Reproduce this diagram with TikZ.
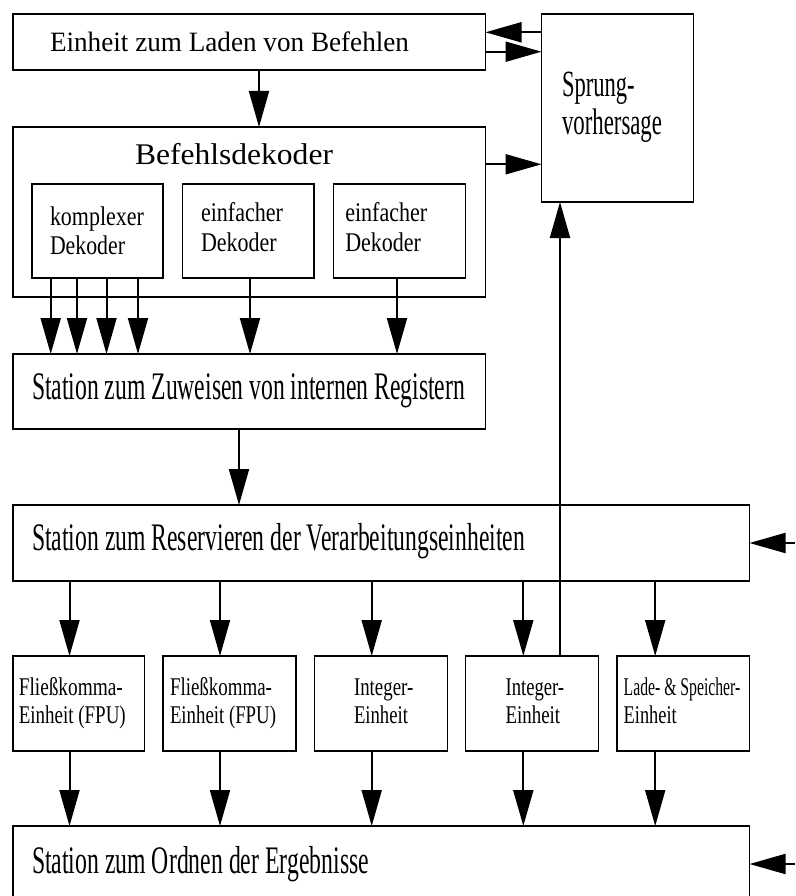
\documentclass[tikz,border=0pt]{standalone}
\usepackage{fontspec}
\setmainfont{Liberation Serif}
\usepackage{graphicx}
\usetikzlibrary{arrows.meta}
% set a line of text at its natural height, squeezed to a given width (in pt)
\newcommand{\fitw}[2]{\resizebox{#1pt}{\height}{#2}}
\begin{document}
\begin{tikzpicture}[x=1pt,y=-1pt,
  box/.style={draw, line width=1.4pt, inner sep=0pt, outer sep=0pt, anchor=north west},
  arr/.style={line width=2pt, -{Triangle[length=36pt,width=20pt]}},
  txt/.style={inner sep=0pt, outer sep=0pt, anchor=base west},
  fA/.style={font=\fontsize{28}{30}\selectfont},
  fB/.style={font=\fontsize{30}{32}\selectfont},
  fC/.style={font=\fontsize{27}{29}\selectfont},
  fD/.style={font=\fontsize{39}{41}\selectfont},
  fE/.style={font=\fontsize{37}{39}\selectfont},
  fF/.style={font=\fontsize{25.5}{27}\selectfont}]
\useasboundingbox (0,0) rectangle (795,896);
\clip (0,0) rectangle (795,896);

% ---- boxes ----
\node[box, minimum width=472.5pt, minimum height=56pt]  (laden)  at (13,14) {};
\node[box, minimum width=152pt,   minimum height=188pt] (sprung) at (541.5,14) {};
\node[box, minimum width=472.5pt, minimum height=170pt] (dek)    at (13,127) {};
\node[box, minimum width=131pt,   minimum height=94pt]  (kd)     at (32,184) {};
\node[box, minimum width=131.5pt, minimum height=94pt]  (edA)    at (182.5,184) {};
\node[box, minimum width=131.8pt, minimum height=94pt]  (edB)    at (333.7,184) {};
\node[box, minimum width=472.5pt, minimum height=75pt]  (zuw)    at (13,354) {};
\node[box, minimum width=736.5pt, minimum height=76pt]  (res)    at (13,505) {};
\node[box, minimum width=131.5pt, minimum height=95pt]  (fpuA)   at (13,656) {};
\node[box, minimum width=133pt,   minimum height=95pt]  (fpuB)   at (163,656) {};
\node[box, minimum width=133pt,   minimum height=95pt]  (intA)   at (314.4,656) {};
\node[box, minimum width=133pt,   minimum height=95pt]  (intB)   at (465.5,656) {};
\node[box, minimum width=132.5pt, minimum height=95pt]  (ls)     at (617,656) {};
\node[box, minimum width=736.5pt, minimum height=90pt]  (ord)    at (13,826) {};

% ---- labels ----
\node[txt, fA] (tladen) at (50,51.7) {\fitw{359}{Einheit zum Laden von Befehlen}};
\node[txt, fB] (tdek)   at (135,164.3) {\fitw{198}{Befehlsdekoder}};
\node[txt, fC] (tkdA)   at (50,225) {\fitw{94}{komplexer}};
\node[txt, fC] (tkdB)   at (50,254) {\fitw{75}{Dekoder}};
\node[txt, fC] (tedAa)  at (201,221.7) {\fitw{82}{einfacher}};
\node[txt, fC] (tedAb)  at (201,251.7) {\fitw{75.7}{Dekoder}};
\node[txt, fC] (tedBa)  at (345.3,221.7) {\fitw{82}{einfacher}};
\node[txt, fC] (tedBb)  at (345.3,251.7) {\fitw{75.7}{Dekoder}};
\node[txt, fE] (tspA)   at (562,97) {\fitw{72.7}{Sprung-}};
\node[txt, fE] (tspB)   at (562,135) {\fitw{100}{vorhersage}};
\node[txt, fD] (tzuw)   at (32,399) {\fitw{433}{Station zum Zuweisen von internen Registern}};
\node[txt, fD] (tres)   at (32,550) {\fitw{493}{Station zum Reservieren der Verarbeitungseinheiten}};
\node[txt, fD] (tord)   at (32,873.5) {\fitw{337}{Station zum Ordnen der Ergebnisse}};
\node[txt, fF] (tfpuAa) at (18.8,695) {\fitw{104}{Fließkomma-}};
\node[txt, fF] (tfpuAb) at (18.8,723.5) {\fitw{107}{Einheit (FPU)}};
\node[txt, fF] (tfpuBa) at (170,695) {\fitw{102}{Fließkomma-}};
\node[txt, fF] (tfpuBb) at (170,723.5) {\fitw{106}{Einheit (FPU)}};
\node[txt, fF] (tintAa) at (354,695) {\fitw{59.3}{Integer-}};
\node[txt, fF] (tintAb) at (354,723.5) {\fitw{54}{Einheit}};
\node[txt, fF] (tintBa) at (505.6,695) {\fitw{58.5}{Integer-}};
\node[txt, fF] (tintBb) at (505.6,723.5) {\fitw{54.5}{Einheit}};
\node[txt, fF] (tlsa)   at (623.7,695) {\fitw{116.6}{Lade- \& Speicher-}};
\node[txt, fF] (tlsb)   at (623.7,723.5) {\fitw{53}{Einheit}};

% ---- connector positions ----
\coordinate (xL) at (259,0);
\coordinate (kA) at (50.7,0);
\coordinate (kB) at (77,0);
\coordinate (kC) at (106.5,0);
\coordinate (kD) at (138,0);
\coordinate (eA) at (250,0);
\coordinate (eB) at (397,0);
\coordinate (xZ) at (239,0);
\coordinate (xS) at (560,0);
\coordinate (uA) at (69.5,0);
\coordinate (uB) at (220,0);
\coordinate (uC) at (371.7,0);
\coordinate (uD) at (523.3,0);
\coordinate (uE) at (655.2,0);
\coordinate (yA) at (0,32.3);
\coordinate (yB) at (0,51.7);
\coordinate (yC) at (0,164.3);
\coordinate (inR) at (795,543);
\coordinate (inO) at (795,864);

% ---- connectors ----
\draw[arr] (xL |- laden.south) -- (xL |- dek.north);
\draw[arr] (sprung.west |- yA) -- (laden.east |- yA);
\draw[arr] (laden.east |- yB) -- (sprung.west |- yB);
\draw[arr] (dek.east |- yC) -- (sprung.west |- yC);

\foreach \c in {kA,kB,kC,kD}
  \draw[arr] (\c |- kd.south) -- (\c |- zuw.north);
\draw[arr] (eA |- edA.south) -- (eA |- zuw.north);
\draw[arr] (eB |- edB.south) -- (eB |- zuw.north);

\draw[arr] (xZ |- zuw.south) -- (xZ |- res.north);

\draw[arr] (uA |- res.south) -- (uA |- fpuA.north);
\draw[arr] (uB |- res.south) -- (uB |- fpuB.north);
\draw[arr] (uC |- res.south) -- (uC |- intA.north);
\draw[arr] (uD |- res.south) -- (uD |- intB.north);
\draw[arr] (uE |- res.south) -- (uE |- ls.north);

\draw[arr] (uA |- fpuA.south) -- (uA |- ord.north);
\draw[arr] (uB |- fpuB.south) -- (uB |- ord.north);
\draw[arr] (uC |- intA.south) -- (uC |- ord.north);
\draw[arr] (uD |- intB.south) -- (uD |- ord.north);
\draw[arr] (uE |- ls.south) -- (uE |- ord.north);

\draw[arr] (xS |- intB.north) -- (xS |- sprung.south);

\draw[arr] (inR) -- (res.east |- inR);
\draw[arr] (inO) -- (ord.east |- inO);
\end{tikzpicture}
\end{document}
